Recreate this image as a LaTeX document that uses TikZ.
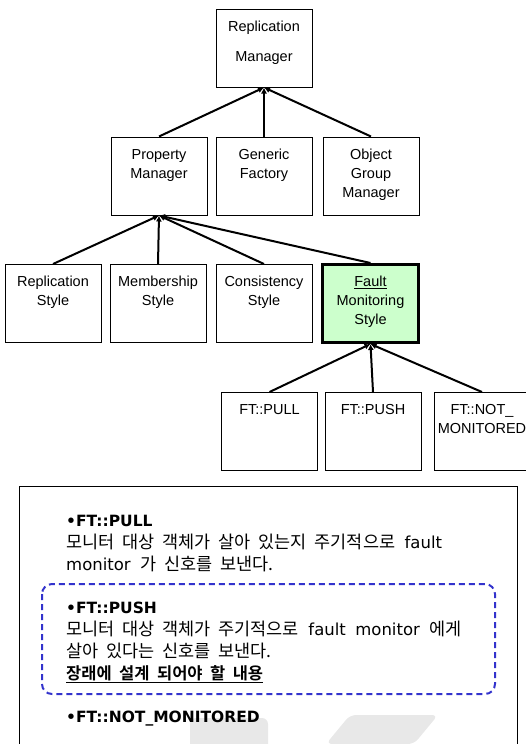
\documentclass[tikz,border=0pt]{standalone}
\usepackage{fontspec}
\setmainfont{Liberation Sans}
\newfontfamily\notefont{DejaVu Sans}[WordSpace=1.8]
\newfontfamily\kr{Noto Sans CJK KR}[BoldFont={Noto Sans CJK KR Bold}, WordSpace=2]
\usetikzlibrary{arrows.meta}
\definecolor{fmgreen}{HTML}{CCFFCC}
\definecolor{dashblue}{HTML}{3333CC}
\definecolor{wmgray}{HTML}{E8E8E8}
% text of a class box, set from the top
\newcommand{\boxtext}[2][19pt]{\parbox[c][78pt][t]{96pt}{\centering\fontsize{14.5}{#1}\selectfont\rule{0pt}{22pt}#2}}
% korean words in the notes
\newcommand{\hg}[1]{{\kr\fontsize{17.5}{22}\selectfont #1}}

\begin{document}
\begin{tikzpicture}[x=1pt, y=-1pt,
    classbox/.style={draw, line width=1pt, inner sep=0pt},
    inherit/.style={line width=2pt, -{Latex[length=6pt,width=6pt]}},
    noteline/.style={anchor=base west, inner sep=0pt, font=\notefont\fontsize{16.5}{22}\selectfont},
    notehead/.style={noteline, font=\notefont\fontsize{15.5}{22}\selectfont\bfseries}]
    \clip (0,0) rectangle (526,744);

    % Class hierarchy
    \node[classbox] (repmgr) at (264,48) {\boxtext[30pt]{Replication\\Manager}};
    \node[classbox] (propmgr) at (159,176) {\boxtext{Property\\Manager}};
    \node[classbox] (genfact) at (264,176) {\boxtext{Generic\\Factory}};
    \node[classbox] (objgrp) at (371,176) {\boxtext{Object\\Group\\Manager}};

    \node[classbox] (repstyle) at (53,303.5) {\boxtext{Replication\\Style}};
    \node[classbox] (memstyle) at (158,303.5) {\boxtext{Membership\\Style}};
    \node[classbox] (consstyle) at (264,303.5) {\boxtext{Consistency\\Style}};
    \node[classbox, line width=3pt, fill=fmgreen] (faultstyle) at (370.5,303.5) {\boxtext{\underline{Fault}\\Monitoring\\Style}};

    \node[classbox] (ftpull) at (269.5,431.5) {\boxtext{FT::PULL}};
    \node[classbox] (ftpush) at (373,431.5) {\boxtext{FT::PUSH}};
    \node[classbox] (ftnotmon) at (482,431.5) {\boxtext{FT::NOT\_\\MONITORED}};

    % Inheritance arrows
    \foreach \child in {propmgr, genfact, objgrp}
        \draw[inherit] (\child.north) -- (repmgr.south);
    \foreach \child in {repstyle, memstyle, consstyle, faultstyle}
        \draw[inherit] (\child.north) -- (propmgr.south);
    \foreach \child in {ftpull, ftpush, ftnotmon}
        \draw[inherit] (\child.north) -- (faultstyle.south);

    % Notes
    \draw[line width=1pt] (19,486) rectangle (517,760);
    \fill[wmgray, rounded corners=6pt] (190,760) -- (190,718) -- (268,718) -- (268,760) -- cycle;
    \fill[wmgray, rounded corners=6pt] (326,744) -- (350,715) -- (438,715) -- (414,744) -- cycle;
    \draw[dashblue, line width=2pt, dash pattern=on 6pt off 4pt, rounded corners=10pt] (42,584) rectangle (495,694);

    \node[notehead] (pullhead) at (66,526) {•FT::PULL};
    \node[noteline] (pulltext1) at (66,548) {\hg{모니터 대상 객체가 살아 있는지 주기적으로} fault};
    \node[noteline] (pulltext2) at (66,570) {monitor \hg{가 신호를 보낸다.}};
    \node[notehead] (pushhead) at (66,613) {•FT::PUSH};
    \node[noteline] (pushtext1) at (66,635) {\hg{모니터 대상 객체가 주기적으로} fault monitor \hg{에게}};
    \node[noteline] (pushtext2) at (66,657) {\hg{살아 있다는 신호를 보낸다.}};
    \node[noteline] (pushtext3) at (66,679) {\underline{\kr\fontsize{16.5}{22}\selectfont\bfseries 장래에 설계 되어야 할 내용}};
    \node[notehead] (notmonhead) at (66,722) {•FT::NOT\_MONITORED};
\end{tikzpicture}
\end{document}
